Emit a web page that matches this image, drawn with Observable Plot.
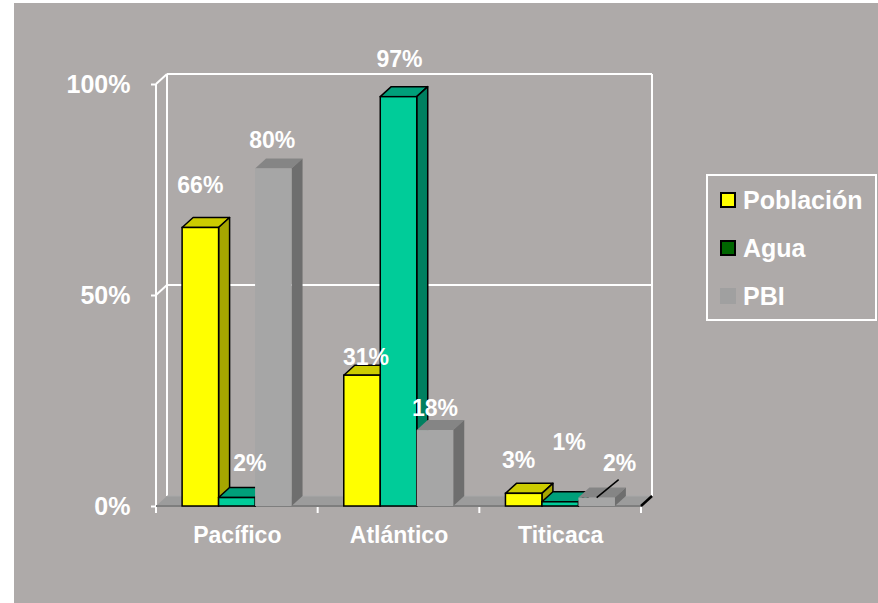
<!DOCTYPE html>
<html><head><meta charset="utf-8">
<script src="https://cdn.jsdelivr.net/npm/d3@7"></script>
<script src="https://cdn.jsdelivr.net/npm/@observablehq/plot@0.6"></script>
<style>
html,body{margin:0;padding:0;background:#fff;}
#wrap{position:relative;width:878px;height:603px;overflow:hidden;font-family:"Liberation Sans",Arial,sans-serif;}
#bg{position:absolute;left:14px;top:3px;width:864px;height:600px;background:#AEAAA9;}
#chart{position:absolute;left:0;top:0;}
#legend{position:absolute;left:706px;top:174px;width:171px;height:147px;border:2px solid #fff;box-sizing:border-box;}
.row{height:48px;display:flex;align-items:center;color:#fff;font-weight:bold;font-size:25px;}
.sw{width:16px;height:16px;box-sizing:border-box;margin-left:12px;margin-right:7px;flex:none;}
</style></head>
<body><div id="wrap"><div id="bg"></div><div id="chart"></div><div id="legend"></div></div>
<script>
// ---- data ----
const categories = ["Pacífico", "Atlántico", "Titicaca"];
const series = ["Población", "Agua", "PBI"];
const poblacion = [66, 31, 3];
const agua = [2, 97, 1];
const pbi = [80, 18, 2];
const yTicks = [0, 50, 100];

// ---- styles ----
const faces = {
  "Población": {front: "#FFFF00", top: "#CCCC00", side: "#A6A600", stroke: "#000"},
  "Agua": {front: "#00CC99", top: "#00A07A", side: "#008060", stroke: "#000"},
  "PBI": {front: "#A6A6A6", top: "#858585", side: "#6E6E6E", stroke: "none"}
};
const legendColors = {
  "Población": {fill: "#FFFF00", border: "2px solid #000"},
  "Agua": {fill: "#006600", border: "2px solid #000"},
  "PBI": {fill: "#A0A0A0", border: "none"}
};
const DX = 11, DY = -10;
// label nudges in pixels relative to default placement (annotation style)
const labelNudge = {
  "Pacífico|Población": [-3, -14], "Pacífico|Agua": [10, -7], "Pacífico|PBI": [-4, 0],
  "Atlántico|Población": [1, 10], "Atlántico|Agua": [-2, -10], "Atlántico|PBI": [-3, 6],
  "Titicaca|Población": [-8, -5], "Titicaca|Agua": [6, -32], "Titicaca|PBI": [20, -7]
};
const leaderFor = ["Titicaca|PBI"];

const rows = [];
const valuesBySeries = [poblacion, agua, pbi];
categories.forEach((c, i) => series.forEach((s, j) => rows.push({cat: c, series: s, j, value: valuesBySeries[j][i]})));

function pts(a) { return a.map(p => p.join(",")).join(" "); }

function scene(index, scales, values, dims) {
  const {x, y} = scales;
  const g = d3.create("svg:g");
  const xl = dims.marginLeft, xr = dims.width - dims.marginRight;
  const y0 = y(0), y100 = y(100);
  const bw = typeof x.bandwidth === "function" ? x.bandwidth() : x.bandwidth;
  const step = typeof x.step === "function" ? x.step() : (xr - xl) / categories.length;
  const line = (x1, y1, x2, y2, stroke, w) => g.append("line")
    .attr("x1", x1).attr("y1", y1).attr("x2", x2).attr("y2", y2)
    .attr("stroke", stroke).attr("stroke-width", w);

  // walls (white lines)
  line(xl, y0, xl, y100, "#fff", 2);
  line(xl + DX, y0 + DY, xl + DX, y100 + DY, "#fff", 2);
  line(xr + DX, y0 + DY, xr + DX, y100 + DY, "#fff", 2);
  yTicks.filter(t => t > 0).forEach(t => {
    line(xl, y(t), xl + DX, y(t) + DY, "#fff", 2);
    line(xl + DX, y(t) + DY, xr + DX, y(t) + DY, "#fff", 2);
  });
  // floor
  g.append("polygon").attr("points", pts([[xl, y0], [xr, y0], [xr + DX, y0 + DY], [xl + DX, y0 + DY]]))
    .attr("fill", "#9C9C9C");
  line(xl + DX, y0 + DY, xr + DX, y0 + DY, "#a8a8a8", 1);
  line(xl, y0, xr, y0, "#7E7E7E", 2);
  line(xr, y0, xr + DX, y0 + DY, "#000", 2.5);
  // category boundary ticks
  for (let k = 0; k <= categories.length; k++) {
    const xt = xl + k * step;
    line(xt, y0 + 1, xt, y0 + 7, "#fff", 2);
  }
  // bars
  const w = bw / series.length;
  rows.forEach(d => {
    const f = faces[d.series];
    const x0 = x(d.cat) + d.j * w, x1 = x0 + w;
    const yt = y(d.value), yb = y(0);
    const sw = f.stroke === "none" ? 0 : 1.5;
    g.append("polygon").attr("points", pts([[x0, yt], [x1, yt], [x1 + DX, yt + DY], [x0 + DX, yt + DY]]))
      .attr("fill", f.top).attr("stroke", f.stroke).attr("stroke-width", sw).attr("stroke-linejoin", "round");
    g.append("polygon").attr("points", pts([[x1, yt], [x1 + DX, yt + DY], [x1 + DX, yb + DY], [x1, yb]]))
      .attr("fill", f.side).attr("stroke", f.stroke).attr("stroke-width", sw).attr("stroke-linejoin", "round");
    g.append("rect").attr("x", x0).attr("y", yt).attr("width", w).attr("height", yb - yt)
      .attr("fill", f.front).attr("stroke", f.stroke).attr("stroke-width", sw);
  });
  // value labels
  rows.forEach(d => {
    const key = d.cat + "|" + d.series;
    const [nx, ny] = labelNudge[key] || [0, 0];
    const cx = x(d.cat) + d.j * w + w / 2;
    const tx = cx + 3 + nx, ty = y(d.value) - 20 + ny;
    if (leaderFor.includes(key)) line(tx - 1, ty + 9, cx, y(d.value), "#000", 1.5);
    g.append("text").attr("x", tx).attr("y", ty)
      .attr("text-anchor", "middle").attr("fill", "#fff")
      .attr("font-size", 23).attr("font-weight", "bold")
      .text(d.value + "%");
  });
  return g.node();
}

const plot = Plot.plot({
  width: 878, height: 603,
  marginLeft: 156, marginRight: 237, marginTop: 84, marginBottom: 97,
  style: {background: "transparent", fontFamily: "Liberation Sans, Arial, sans-serif", overflow: "visible"},
  x: {type: "band", domain: categories, paddingInner: 0.323, paddingOuter: 0.1615, round: false},
  y: {domain: [0, 100]},
  marks: [
    scene,
    Plot.axisY({ticks: yTicks, tickFormat: d => d + "%", tickSize: 5, tickPadding: 21, fontSize: 25, fontWeight: "bold", color: "white", strokeWidth: 2, label: null}),
    Plot.axisX({tickSize: 0, tickPadding: 20, fontSize: 23, fontWeight: "bold", color: "white", label: null})
  ]
});
document.getElementById("chart").appendChild(plot);

// legend
const leg = document.getElementById("legend");
series.forEach(s => {
  const r = document.createElement("div"); r.className = "row";
  const sw = document.createElement("div"); sw.className = "sw";
  sw.style.background = legendColors[s].fill; sw.style.border = legendColors[s].border;
  const t = document.createElement("span"); t.textContent = s;
  r.appendChild(sw); r.appendChild(t); leg.appendChild(r);
});
</script>
</body></html>
